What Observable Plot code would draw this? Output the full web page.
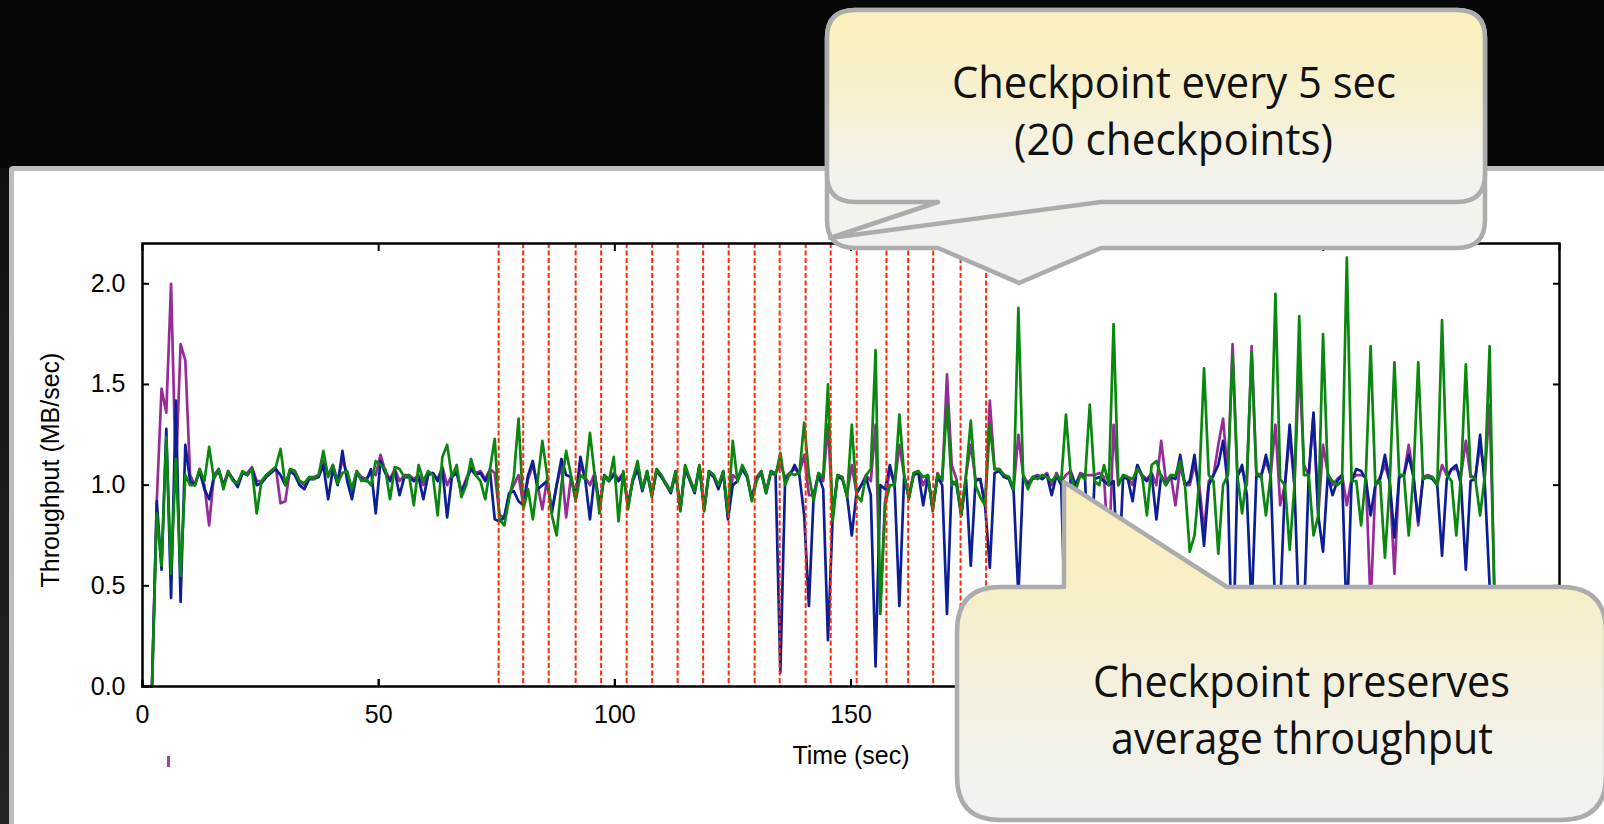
<!DOCTYPE html>
<html><head><meta charset="utf-8">
<script src="https://cdn.jsdelivr.net/npm/d3@7"></script>
<script src="https://cdn.jsdelivr.net/npm/@observablehq/plot@0.6"></script>
<style>
html,body{margin:0;padding:0;background:#070707;}
#stage{position:relative;width:1604px;height:824px;overflow:hidden;background:#070707;}
#strip{position:absolute;left:0;top:168px;width:12px;height:660px;background:linear-gradient(#111,#242424);}
#panel{position:absolute;left:9px;top:166px;width:1650px;height:720px;background:#fff;border:5px solid #bcbcbc;border-radius:4px;box-sizing:border-box;}
#chart{position:absolute;left:0;top:0;}
#frag{position:absolute;left:167px;top:756px;width:3px;height:11px;background:#a040a0;}
#callouts{position:absolute;left:0;top:0;}
</style></head>
<body>
<div id="stage">
  <div id="strip"></div>
  <div id="panel"></div>
  <div id="frag"></div>
  <div id="chart"></div>
  <svg id="callouts" width="1604" height="824" viewBox="0 0 1604 824">
    <defs>
      <linearGradient id="g1" gradientUnits="userSpaceOnUse" x1="0" y1="10" x2="0" y2="202">
        <stop offset="0" stop-color="#fbf0bb"/><stop offset="0.5" stop-color="#f7f0d2"/>
        <stop offset="0.8" stop-color="#f3f2ea"/><stop offset="1" stop-color="#f2f2f2"/>
      </linearGradient>
      <linearGradient id="g0" gradientUnits="userSpaceOnUse" x1="0" y1="10" x2="0" y2="248">
        <stop offset="0" stop-color="#fbf0bb"/><stop offset="0.5" stop-color="#f7f0d2"/>
        <stop offset="0.8" stop-color="#f3f2ea"/><stop offset="1" stop-color="#f2f2f2"/>
      </linearGradient>
      <linearGradient id="g2" gradientUnits="userSpaceOnUse" x1="0" y1="482" x2="0" y2="822">
        <stop offset="0" stop-color="#faeebb"/><stop offset="0.3" stop-color="#f8efc6"/>
        <stop offset="0.6" stop-color="#f4f0df"/><stop offset="1" stop-color="#f2f2f2"/>
      </linearGradient>
    </defs>
    <g stroke="#acacac" stroke-width="4.5" stroke-linejoin="round">
      <path fill="url(#g0)" d="M855,10 H1457 Q1485,10 1485,38 V220 Q1485,248 1457,248 H1101 L1019,283 L938,248 H855 Q827,248 827,220 V38 Q827,10 855,10 Z"/>
      <path fill="url(#g1)" d="M855,10 H1457 Q1485,10 1485,38 V174 Q1485,202 1457,202 H1101 L830,238 L938,202 H855 Q827,202 827,174 V38 Q827,10 855,10 Z"/>
      <path fill="url(#g2)" d="M1000,587 H1064 L1064,482 L1227,587 H1561 Q1606,587 1606,632 V776 Q1606,820 1561,820 H1000 Q957,820 957,776 V632 Q957,587 1000,587 Z"/>
    </g>
    <g font-family="'Open Sans', 'Noto Sans', sans-serif" font-size="43" fill="#111">
      <text x="952" y="98" textLength="444" lengthAdjust="spacingAndGlyphs">Checkpoint every 5 sec</text>
      <text x="1014" y="155" textLength="319" lengthAdjust="spacingAndGlyphs">(20 checkpoints)</text>
      <text x="1093" y="697" textLength="417" lengthAdjust="spacingAndGlyphs">Checkpoint preserves</text>
      <text x="1111" y="754" textLength="382" lengthAdjust="spacingAndGlyphs">average throughput</text>
    </g>
  </svg>
</div>
<script>
// Sampling interval (seconds) of the throughput series
const sampleStep = 1.0078;

const greenValues = [0,0,0,.86,.60,1.24,.56,1.13,.55,1.05,
1.00,1.00,1.08,1.02,1.19,1.03,1.08,.98,1.07,1.02,
1.01,1.07,1.05,1.08,.86,1.02,1.05,1.07,1.09,1.18,
1.00,1.08,1.07,1.02,1.01,1.04,1.03,1.05,1.17,1.04,
1.10,1.01,1.06,1.07,.98,1.07,1.02,1.03,1.00,1.12,
1.10,1.08,.93,1.09,1.08,1.04,1.05,.90,1.10,1.02,
1.07,1.05,.85,1.14,1.20,1.04,1.10,.94,1.00,1.13,
1.05,1.02,.93,1.08,1.23,.83,.80,.93,1.04,1.33,
.88,.98,.83,1.02,1.22,1.05,.85,.75,1.00,1.17,
1.05,.92,1.05,1.03,1.26,1.05,.86,1.05,1.02,1.14,
.82,1.07,.88,1.03,1.12,.98,1.07,.94,1.08,1.05,
1.00,.97,1.07,.87,1.10,1.03,.97,1.10,.87,1.07,
1.05,1.00,1.07,.86,1.22,1.02,1.10,1.05,.92,1.02,
1.07,.96,1.07,1.05,1.16,1.00,1.06,1.05,1.06,1.31,
1.05,.92,1.06,1.04,1.50,.82,1.05,1.04,.94,1.30,
.95,.92,1.05,1.08,1.67,.36,.90,1.00,1.00,1.35,
1.05,.93,1.06,1.07,1.04,1.05,.87,1.05,1.03,1.40,
1.00,1.02,.85,1.05,1.32,1.00,.94,.90,1.30,1.08,
1.08,1.05,1.04,.98,1.88,1.05,.98,1.04,1.03,1.05,
1.04,1.02,1.05,1.02,1.35,1.05,.97,1.05,1.03,1.40,
1.02,1.00,1.10,1.00,1.80,1.00,1.05,1.04,1.03,1.08,
1.05,.85,1.10,1.12,1.04,1.00,1.05,1.05,1.12,1.00,
.67,.75,1.02,1.58,1.05,1.02,.66,1.00,1.05,1.65,
1.05,.86,1.05,1.66,1.05,1.05,.85,1.05,1.95,1.03,
1.00,.68,1.00,1.84,1.05,1.05,.75,.85,1.75,1.05,
1.02,1.00,1.02,2.13,1.02,1.02,.80,1.05,1.69,1.00,
1.02,.64,1.00,1.61,1.05,1.05,.75,1.05,1.61,1.03,
1.04,1.04,1.00,1.82,1.05,1.02,.75,1.05,1.60,1.05,
1.03,.85,1.05,1.69,.40];

const blueValues = [0,0,0,.92,.58,1.28,.44,1.42,.42,1.20,
1.02,1.00,1.07,.98,.93,1.04,1.07,1.00,1.06,1.03,
.99,1.06,1.05,1.08,1.00,1.01,1.04,1.06,1.08,1.05,
1.00,1.07,1.05,1.00,.98,1.03,1.03,1.04,1.10,.93,
1.08,1.00,1.17,1.02,.93,1.06,1.03,1.02,1.08,.86,
1.12,1.06,1.02,1.07,.95,1.04,1.04,1.02,1.04,.93,
1.05,1.06,1.02,1.08,.84,1.04,1.06,.96,1.02,1.08,
1.05,1.06,1.02,1.07,.83,.82,.84,.96,.97,.92,
.90,1.05,1.12,.98,1.00,1.02,.87,1.00,1.13,1.05,
1.04,.94,1.14,1.03,.83,1.05,.90,1.04,1.02,1.05,
1.02,1.05,.90,1.02,1.08,.97,1.06,.95,1.07,1.04,
1.00,.96,1.06,.88,1.08,1.02,.96,1.09,.88,1.06,
1.04,.98,1.06,.83,1.00,1.02,1.08,1.04,.93,1.03,
1.06,.96,1.06,1.05,.07,1.03,1.05,1.10,1.05,.85,
.40,.95,1.05,.98,.23,.85,1.04,1.03,.95,.75,
.96,1.00,1.04,.95,.10,1.00,.98,1.10,1.00,.40,
1.04,.94,1.05,1.06,.90,1.04,.88,1.04,1.00,.36,
1.02,1.00,.85,1.03,.60,1.02,1.03,.90,.59,1.06,
1.07,1.04,1.03,.97,.45,1.04,1.00,1.03,1.04,1.03,
1.05,.95,1.05,1.00,.15,1.06,1.00,1.05,1.04,.45,
1.03,1.04,1.02,1.00,1.02,.50,1.04,1.03,.92,1.10,
1.04,1.02,1.05,.83,1.05,1.00,1.04,1.03,1.15,1.00,
1.02,1.15,.95,.70,1.00,1.05,1.10,1.22,1.00,.05,
1.04,1.10,.95,.38,1.05,1.04,1.15,1.05,.35,.40,
1.00,1.30,1.00,.30,.35,1.05,1.36,.85,.67,1.05,
.95,1.02,1.05,.30,1.02,1.08,1.07,1.03,.85,1.00,
1.03,1.15,1.02,.74,1.04,1.05,1.15,1.04,.82,1.03,
1.04,1.03,1.00,.65,1.03,1.08,1.10,1.00,.58,1.02,
1.03,1.25,1.00,.50,.30];

const purpleValues = [0,0,0,.92,1.48,1.36,2.00,1.05,1.70,1.62,
1.05,1.00,1.08,1.00,.80,1.05,1.08,1.00,1.07,1.03,
1.00,1.06,1.06,1.09,1.02,1.02,1.05,1.07,1.09,.91,
.92,1.08,1.07,1.02,1.00,1.04,1.04,1.05,1.12,1.05,
1.10,1.02,1.13,1.05,.97,1.07,1.04,1.03,1.06,1.05,
1.15,1.07,1.03,1.08,1.02,1.05,1.05,1.03,1.05,1.00,
1.06,1.06,1.03,1.09,1.00,1.05,1.07,.97,1.03,1.09,
1.06,1.07,1.03,1.08,1.06,.85,.84,.95,1.00,1.05,
.90,1.03,1.10,1.00,.88,1.03,.86,1.00,1.10,.84,
1.04,.93,1.10,1.04,1.00,1.06,.90,1.05,1.03,1.06,
1.03,1.06,.90,1.03,1.09,.98,1.07,.95,1.08,1.05,
1.01,.97,1.07,.88,1.09,1.03,.97,1.10,.88,1.07,
1.05,.99,1.07,.84,1.05,1.03,1.09,1.05,.93,1.04,
1.07,.97,1.07,1.06,1.10,1.04,1.06,1.08,1.06,1.15,
.95,.95,1.06,1.02,1.30,.85,1.05,1.04,.95,1.10,
.96,1.00,1.05,1.02,1.30,.40,.92,1.08,1.00,1.20,
1.05,.94,1.06,1.07,1.00,1.05,.88,1.06,1.02,1.55,
1.10,1.03,.86,1.05,1.20,1.03,1.03,.90,1.42,1.08,
1.08,1.05,1.04,.98,1.25,1.05,1.01,1.04,1.05,1.04,
1.06,1.00,1.06,1.02,1.05,1.07,1.00,1.06,1.05,1.05,
1.05,1.06,1.04,.62,1.30,1.00,1.05,1.04,1.00,1.10,
1.05,1.03,1.06,1.00,1.22,1.02,1.05,.90,1.10,1.00,
1.00,1.10,1.00,.77,1.02,1.05,1.20,1.33,1.05,1.70,
1.05,1.08,1.00,1.69,1.06,1.05,1.12,1.05,1.30,.90,
1.00,1.25,1.00,1.60,1.10,1.05,1.35,.85,1.20,1.06,
1.00,1.03,1.05,.90,1.03,1.05,1.05,1.04,.40,1.00,
1.04,1.10,1.02,.56,1.05,1.05,1.20,1.05,.80,1.04,
1.05,1.04,1.00,1.10,1.05,1.08,1.08,1.05,1.22,1.04,
1.04,1.20,1.05,1.40,.50];

// Checkpoint times (sec), 20 checkpoints
const checkpoints = [75.4, 80.6, 86.0, 91.7, 97.1, 102.5, 107.9, 113.3, 118.7, 124.1,
  129.6, 134.9, 140.4, 145.7, 151.2, 157.5, 162.1, 167.4, 173.2, 178.6];

const xTicks = [0, 50, 100, 150, 200, 250, 300];
// tick labels that are not hidden behind the lower call-out
const xTickLabels = [0, 50, 100, 150];
const yTicks = [0, 0.5, 1.0, 1.5, 2.0];
const xLabel = "Time (sec)";
const yLabel = "Throughput (MB/sec)";

const colors = {purple: "#962c98", blue: "#0c1e96", green: "#0a870f", checkpoint: "#ff2a0a"};

const rows = vals => vals.map((v, i) => ({t: i * sampleStep, v}));

const chart = Plot.plot({
  width: 1604,
  height: 824,
  marginTop: 243,
  marginBottom: 138,
  marginLeft: 142,
  marginRight: 45,
  style: {background: "transparent", fontFamily: "'Liberation Sans', Arial, sans-serif", fontSize: "25px", color: "black"},
  x: {domain: [0, 300]},
  y: {domain: [0, 2.2]},
  marks: [
    Plot.line(rows(purpleValues), {x: "t", y: "v", stroke: colors.purple, strokeWidth: 2.7}),
    Plot.line(rows(blueValues), {x: "t", y: "v", stroke: colors.blue, strokeWidth: 2.7}),
    Plot.line(rows(greenValues), {x: "t", y: "v", stroke: colors.green, strokeWidth: 2.7}),
    Plot.ruleX(checkpoints, {stroke: colors.checkpoint, strokeWidth: 2, strokeDasharray: "5,2.5"}),
    Plot.frame({stroke: "black", strokeWidth: 2.5}),
    Plot.axisX(xTicks, {anchor: "bottom", tickSize: -7, strokeWidth: 2, tickFormat: () => "", label: null}),
    Plot.axisX(xTickLabels, {anchor: "bottom", tickSize: -7, tickPadding: 26, strokeWidth: 2, label: null, fontSize: 25}),
    Plot.axisX(xTicks, {anchor: "top", tickSize: -7, strokeWidth: 2, tickFormat: () => "", label: null}),
    Plot.axisY(yTicks, {anchor: "left", tickSize: -7, tickPadding: 24, strokeWidth: 2, tickFormat: d3.format(".1f"), label: null, fontSize: 25}),
    Plot.axisY(yTicks, {anchor: "right", tickSize: -7, strokeWidth: 2, tickFormat: () => "", label: null}),
    Plot.text([xLabel], {frameAnchor: "bottom", dy: 69, textAnchor: "middle", lineAnchor: "middle", fontSize: 25, fill: "black"}),
    Plot.text([yLabel], {frameAnchor: "left", dx: -92, dy: 5, rotate: -90, textAnchor: "middle", lineAnchor: "middle", fontSize: 25, fill: "black"})
  ]
});
document.getElementById("chart").appendChild(chart);
</script>
</body></html>
